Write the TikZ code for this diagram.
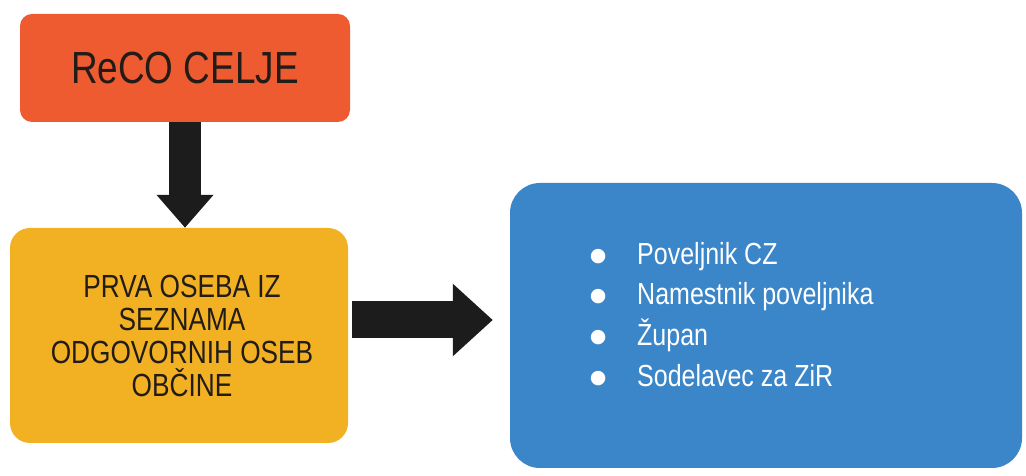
\documentclass[tikz,border=0pt]{standalone}
\usepackage{fontspec}
\setmainfont{Liberation Sans}[FakeStretch=0.82]
\newfontfamily\bulletfont{DejaVu Sans}
\usetikzlibrary{arrows.meta,calc}
\definecolor{redbox}{HTML}{EE5B30}
\definecolor{yelbox}{HTML}{F2B023}
\definecolor{bluebox}{HTML}{3A86C9}
\definecolor{ink}{HTML}{1C1C1C}
\definecolor{txt}{HTML}{221C18}
\tikzset{
  box/.style={draw=none, rounded corners=#1, inner sep=0pt, align=center},
  blockarrow/.style={draw=ink, line width=#1},
}
\newcommand{\blt}{\makebox[16pt]{\raisebox{3pt}{\bulletfont\fontsize{19}{19}\selectfont ●}}}
\begin{document}
\begin{tikzpicture}[x=1pt,y=1pt]
\useasboundingbox (0,0) rectangle (1026,476);
\fill[white] (0,0) rectangle (1026,476);
\node[box=12pt, fill=redbox, minimum width=330pt, minimum height=108pt, text=txt,
      font=\fontsize{45}{50}\selectfont] (red) at (185,408) {ReCO CELJE};
\node[box=20pt, fill=yelbox, minimum width=338pt, minimum height=215pt, text=txt,
      font=\fontsize{32}{33}\selectfont] (yellow) at (179,140.5)
      {\hspace*{6pt}PRVA OSEBA IZ\\\hspace*{6pt}SEZNAMA\\\hspace*{6pt}ODGOVORNIH OSEB\\\hspace*{6pt}OBČINE};
\node[box=30pt, fill=bluebox, minimum width=512pt, minimum height=285pt] (blue) at (766,150.5) {};
\node[anchor=north west, inner sep=0pt, text=white, align=left,
      font=\fontsize{30.5}{40.6}\selectfont] (list) at (590,240.4)
  {\begin{tabular}{@{}l@{\hspace{31pt}}l@{}}
   \blt & Poveljnik CZ\\
   \blt & Namestnik poveljnika\\
   \blt & Župan\\
   \blt & Sodelavec za ZiR
   \end{tabular}};
\draw[blockarrow=32pt, -{Triangle[length=33pt,width=55pt]}] (red.south) -- (red.south |- yellow.north);
\coordinate (a1) at ($(yellow.east)+(4,15.5)$);
\coordinate (a2) at ($(blue.west)+(-17,5.5)$);
\draw[blockarrow=37pt, -{Triangle[length=40pt,width=70pt]}] (a1) -- (a2);
\end{tikzpicture}
\end{document}
